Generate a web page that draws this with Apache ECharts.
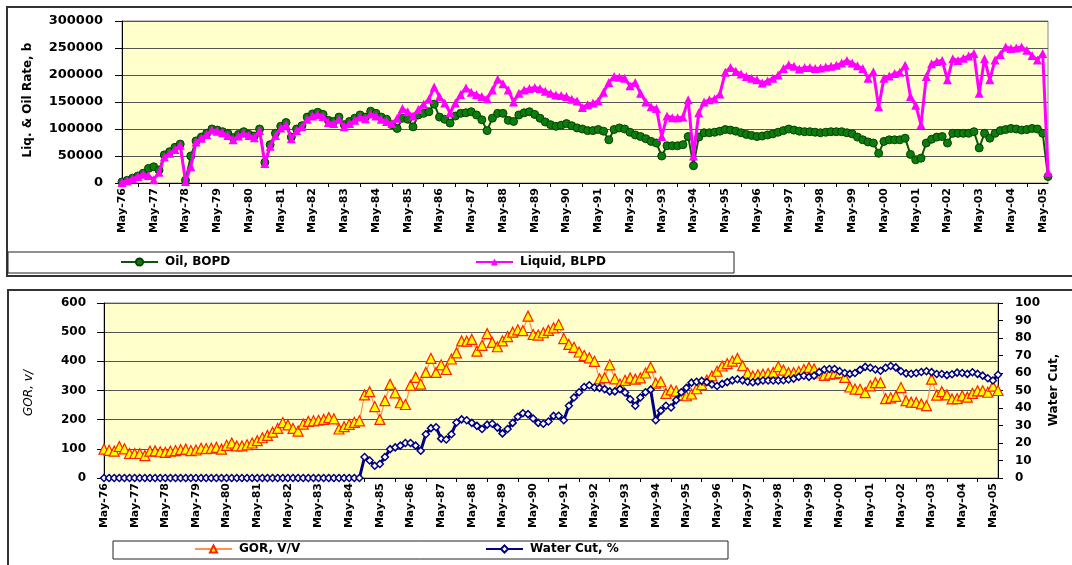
<!DOCTYPE html>
<html><head><meta charset="utf-8">
<script src="https://cdn.jsdelivr.net/npm/echarts@6/dist/echarts.min.js"></script>
<style>html,body{margin:0;padding:0;background:#fff}#c{width:1072px;height:565px}</style>
</head><body><div id="c"></div>
<script>
// bimonthly categories from May-76 to Jul-05
const monthNames = ['May','Jul','Sep','Nov','Jan','Mar'];
const categories = [];
for (let i = 0; i < 176; i++) {
  const yr = (76 + Math.floor(i / 6) + (i % 6 >= 4 ? 1 : 0)) % 100;
  categories.push(monthNames[i % 6] + '-' + String(yr).padStart(2, '0'));
}
const rateTicks = [0, 300000, 50000];   // min, max, interval
const gorTicks = [0, 600, 100];
const wcTicks = [0, 100, 10];

const oilBOPD = [
 2000, 5000, 9000, 13000, 18000, 27000,
 30000, 24000, 52000, 58000, 66000, 72000,
 5000, 50000, 78000, 85000, 92000, 100000,
 98000, 95000, 92000, 84000, 90000, 95000,
 90000, 87000, 100000, 38000, 71000, 92000,
 105000, 112000, 85000, 100000, 106000, 122000,
 128000, 131000, 127000, 116000, 114000, 122000,
 108000, 114000, 120000, 126000, 122000, 133000,
 129000, 122000, 118000, 108000, 101000, 120000,
 118000, 104000, 126000, 129000, 132000, 146000,
 122000, 118000, 111000, 124000, 129000, 130000,
 132000, 126000, 117000, 97000, 120000, 129000,
 129000, 116000, 114000, 126000, 130000, 132000,
 127000, 120000, 113000, 108000, 105000, 107000,
 110000, 106000, 102000, 100000, 97000, 97000,
 99000, 96000, 80000, 99000, 102000, 100000,
 94000, 89000, 86000, 82000, 77000, 74000,
 50000, 69000, 69000, 69000, 71000, 86000,
 32000, 85000, 93000, 93000, 94000, 96000,
 99000, 98000, 96000, 93000, 90000, 88000,
 86000, 87000, 89000, 91000, 94000, 97000,
 100000, 98000, 96000, 95000, 95000, 94000,
 93000, 94000, 95000, 95000, 95000, 93000,
 91000, 85000, 80000, 76000, 74000, 55000,
 77000, 80000, 80000, 80000, 83000, 53000,
 43000, 46000, 74000, 81000, 85000, 86000,
 74000, 92000, 92000, 92000, 92000, 95000,
 65000, 92000, 83000, 92000, 97000, 99000,
 101000, 100000, 98000, 99000, 101000, 100000,
 92000, 12000
];
const liquidBLPD = [
 1000, 4000, 8000, 12000, 16000, 14000,
 6000, 20000, 48000, 55000, 62000, 70000,
 3000, 30000, 76000, 83000, 90000, 98000,
 96000, 93000, 88000, 80000, 87000, 92000,
 88000, 84000, 97000, 36000, 68000, 88000,
 102000, 108000, 82000, 97000, 104000, 118000,
 124000, 127000, 123000, 112000, 110000, 118000,
 104000, 110000, 116000, 122000, 119000, 128000,
 124000, 118000, 114000, 110000, 120000, 138000,
 132000, 124000, 136000, 146000, 155000, 178000,
 160000, 148000, 130000, 148000, 164000, 176000,
 168000, 164000, 160000, 156000, 172000, 192000,
 184000, 172000, 150000, 166000, 172000, 175000,
 177000, 175000, 170000, 166000, 163000, 162000,
 160000, 155000, 152000, 140000, 145000, 148000,
 152000, 168000, 186000, 197000, 196000, 194000,
 180000, 186000, 166000, 150000, 141000, 138000,
 86000, 124000, 121000, 121000, 122000, 154000,
 50000, 130000, 150000, 154000, 156000, 165000,
 205000, 214000, 207000, 202000, 197000, 194000,
 191000, 185000, 189000, 194000, 200000, 212000,
 219000, 216000, 211000, 214000, 214000, 212000,
 213000, 215000, 216000, 218000, 222000, 227000,
 222000, 217000, 212000, 194000, 206000, 141000,
 194000, 198000, 203000, 205000, 218000, 160000,
 144000, 108000, 197000, 221000, 225000, 227000,
 191000, 230000, 227000, 231000, 235000, 240000,
 166000, 230000, 191000, 228000, 238000, 252000,
 249000, 250000, 252000, 246000, 236000, 228000,
 240000, 20000
];
const gorVV = [
 99, 95, 92, 108, 100, 84,
 84, 84, 77, 92, 93, 90,
 88, 92, 94, 97, 99, 94,
 96, 102, 101, 102, 105, 99,
 112, 120, 110, 110, 114, 120,
 128, 138, 146, 157, 170, 190,
 182, 170, 161, 185, 194, 196,
 198, 201, 207, 203, 168, 176,
 184, 191, 196, 285, 296, 245,
 201, 265, 321, 292, 258, 252,
 318, 345, 322, 362, 410, 362,
 388, 372, 408, 429, 470, 469,
 475, 435, 455, 495, 465, 450,
 470, 485, 500, 508, 505, 555,
 492, 490, 498, 506, 515, 526,
 478, 458, 448, 432, 420, 412,
 400, 340, 344, 388, 340, 322,
 335, 343, 339, 343, 360, 380,
 325, 330, 290, 302, 298, 284,
 282, 288, 306, 320, 336, 350,
 366, 384, 392, 401, 410, 385,
 360, 350, 354, 356, 358, 362,
 382, 370, 361, 361, 365, 372,
 379, 374, 360, 352, 356, 358,
 361, 345, 312, 305, 304, 293,
 316, 327, 327, 272, 275, 280,
 310, 265, 260, 259, 254, 248,
 339, 284, 296, 285, 271, 272,
 282, 277, 290, 299, 299, 294,
 315, 300
];
const waterCutPct = [
 0, 0, 0, 0, 0, 0,
 0, 0, 0, 0, 0, 0,
 0, 0, 0, 0, 0, 0,
 0, 0, 0, 0, 0, 0,
 0, 0, 0, 0, 0, 0,
 0, 0, 0, 0, 0, 0,
 0, 0, 0, 0, 0, 0,
 0, 0, 0, 0, 0, 0,
 0, 0, 0, 12, 10, 7,
 8, 12, 16.5, 17.5, 18.5, 20,
 20, 18.5, 15.6, 25, 28.5, 29,
 22.5, 22, 25, 31.7, 33.5, 33,
 31.5, 29.8, 28, 30.5, 31, 28.8,
 25.5, 28, 31.5, 35, 37, 36.5,
 34, 31.5, 31, 32.3, 35.5, 35.6,
 33, 41.3, 46, 49, 52, 53,
 51.7, 51.5, 50.8, 49.5, 49.5, 50.8,
 48.9, 45, 41.3, 46, 49, 50.5,
 33, 38.5, 41.3, 40.3, 44.5, 49,
 51.5, 54.5, 55, 55.5, 54.8, 53.5,
 52.6, 53.8, 54.8, 55.8, 56.4, 55.8,
 55, 54.7, 55.2, 55.7, 55.7, 55.7,
 55.7, 55.9, 56.3, 56.8, 57.8, 58.4,
 57.8, 58.5, 60.4, 62, 62.3, 62.3,
 61, 60, 59.5, 60, 61.8, 63.5,
 63, 62, 61.3, 63, 64, 63.2,
 61, 59.8, 59.6, 60, 60.6, 61,
 60.5, 59.4, 59.4, 58.8, 59.3, 60.2,
 60, 59.5, 60.4, 59.5, 58.5, 57,
 55.7, 59
];

const FF = 'DejaVu Sans';
const chart = echarts.init(document.getElementById('c'), null, {renderer: 'canvas'});

function xAxisCfg(gi) {
  return {
    type: 'category', gridIndex: gi, data: categories, boundaryGap: false,
    axisLine: {show: true, lineStyle: {color: '#000', width: 1}},
    axisTick: {show: true, length: 4, inside: false, interval: function (i) { return i % 6 === 3; }, lineStyle: {color: '#000'}},
    axisLabel: {show: true, rotate: 90, interval: function (i) { return i % 6 === 0; }, margin: 5,
      fontFamily: FF, fontWeight: 'bold', fontSize: 11, color: '#000'},
    splitLine: {show: false}
  };
}
function legendCfg(name, left, top) {
  return {data: [name], left: left, top: top, itemWidth: 37, itemHeight: 9, padding: 0, selectedMode: false,
    textStyle: {fontFamily: FF, fontWeight: 'bold', fontSize: 12, color: '#000', padding: [0, 0, 0, 2]}};
}

const option = {
  animation: false,
  backgroundColor: '#fff',
  grid: [
    {left: 122, top: 21, width: 926, height: 162, show: true, backgroundColor: '#FFFFCC', borderColor: '#888', borderWidth: 1},
    {left: 104, top: 303, width: 894, height: 175, show: true, backgroundColor: '#FFFFCC', borderColor: '#888', borderWidth: 1}
  ],
  xAxis: [xAxisCfg(0), xAxisCfg(1)],
  yAxis: [
    {type: 'value', gridIndex: 0, min: rateTicks[0], max: rateTicks[1], interval: rateTicks[2],
     axisLine: {show: true, lineStyle: {color: '#000'}},
     axisTick: {show: true, length: 7, lineStyle: {color: '#000'}},
     axisLabel: {margin: 19, fontFamily: FF, fontWeight: 'bold', fontSize: 13, color: '#000', formatter: function (v) { return String(v); }},
     splitLine: {show: true, lineStyle: {color: '#555', width: 1}}},
    {type: 'value', gridIndex: 1, min: gorTicks[0], max: gorTicks[1], interval: gorTicks[2],
     axisLine: {show: true, lineStyle: {color: '#000'}},
     axisTick: {show: true, length: 7, lineStyle: {color: '#000'}},
     axisLabel: {margin: 18, fontFamily: FF, fontWeight: 'bold', fontSize: 12, color: '#000', formatter: function (v) { return String(v); }},
     splitLine: {show: true, lineStyle: {color: '#555', width: 1}}},
    {type: 'value', gridIndex: 1, position: 'right', min: wcTicks[0], max: wcTicks[1], interval: wcTicks[2],
     axisLine: {show: true, lineStyle: {color: '#000'}},
     axisTick: {show: true, length: 5, lineStyle: {color: '#000'}},
     axisLabel: {margin: 17, fontFamily: FF, fontWeight: 'bold', fontSize: 12, color: '#000', formatter: function (v) { return String(v); }},
     splitLine: {show: false}}
  ],
  legend: [
    legendCfg('Oil, BOPD', 120, 256),
    legendCfg('Liquid, BLPD', 475, 256),
    legendCfg('GOR, V/V', 194, 543),
    legendCfg('Water Cut, %', 485, 543)
  ],
  graphic: [
    {type: 'rect', silent: true, z: -10, shape: {x: 7, y: 7, width: 1080, height: 269}, style: {fill: 'none', stroke: '#333', lineWidth: 2}},
    {type: 'rect', silent: true, z: -10, shape: {x: 8, y: 252, width: 726, height: 21}, style: {fill: 'none', stroke: '#222', lineWidth: 1}},
    {type: 'rect', silent: true, z: -10, shape: {x: 8, y: 290, width: 1080, height: 300}, style: {fill: 'none', stroke: '#333', lineWidth: 2}},
    {type: 'rect', silent: true, z: -10, shape: {x: 113, y: 541, width: 615, height: 18}, style: {fill: 'none', stroke: '#222', lineWidth: 1}},
    {type: 'text', silent: true, x: 28, y: 100, rotation: Math.PI / 2,
     style: {text: 'Liq. & Oil Rate, b', font: 'bold 12px "DejaVu Sans"', fill: '#000', textAlign: 'center', textVerticalAlign: 'middle', align: 'center', verticalAlign: 'middle'}},
    {type: 'text', silent: true, x: 29, y: 393, rotation: Math.PI / 2,
     style: {text: 'GOR, v/', font: 'italic 12px "DejaVu Sans"', fill: '#000', textAlign: 'center', textVerticalAlign: 'middle', align: 'center', verticalAlign: 'middle'}},
    {type: 'text', silent: true, x: 1054, y: 390, rotation: Math.PI / 2,
     style: {text: 'Water Cut,', font: 'bold 12px "DejaVu Sans"', fill: '#000', textAlign: 'center', textVerticalAlign: 'middle', align: 'center', verticalAlign: 'middle'}}
  ],
  series: [
    {name: 'Oil, BOPD', type: 'line', xAxisIndex: 0, yAxisIndex: 0, data: oilBOPD,
     symbol: 'circle', symbolSize: 8, showAllSymbol: true, z: 2,
     itemStyle: {color: '#0B7D0B', borderColor: '#063F06', borderWidth: 1},
     lineStyle: {color: '#0B560B', width: 2}},
    {name: 'Liquid, BLPD', type: 'line', xAxisIndex: 0, yAxisIndex: 0, data: liquidBLPD,
     symbol: 'triangle', symbolSize: 9, showAllSymbol: true, z: 3,
     itemStyle: {color: '#FF00FF'},
     lineStyle: {color: '#FF00FF', width: 3}},
    {name: 'GOR, V/V', type: 'line', xAxisIndex: 1, yAxisIndex: 1, data: gorVV,
     symbol: 'triangle', symbolSize: 10, showAllSymbol: true, z: 2,
     itemStyle: {color: '#FFFF00', borderColor: '#FF2000', borderWidth: 1.2},
     lineStyle: {color: '#FF9050', width: 1.2}},
    {name: 'Water Cut, %', type: 'line', xAxisIndex: 1, yAxisIndex: 2, data: waterCutPct,
     symbol: 'diamond', symbolSize: 7, showAllSymbol: true, z: 3,
     itemStyle: {color: '#FFFFFF', borderColor: '#000080', borderWidth: 1.5},
     lineStyle: {color: '#000080', width: 3}}
  ]
};
chart.setOption(option);
</script>
</body></html>
